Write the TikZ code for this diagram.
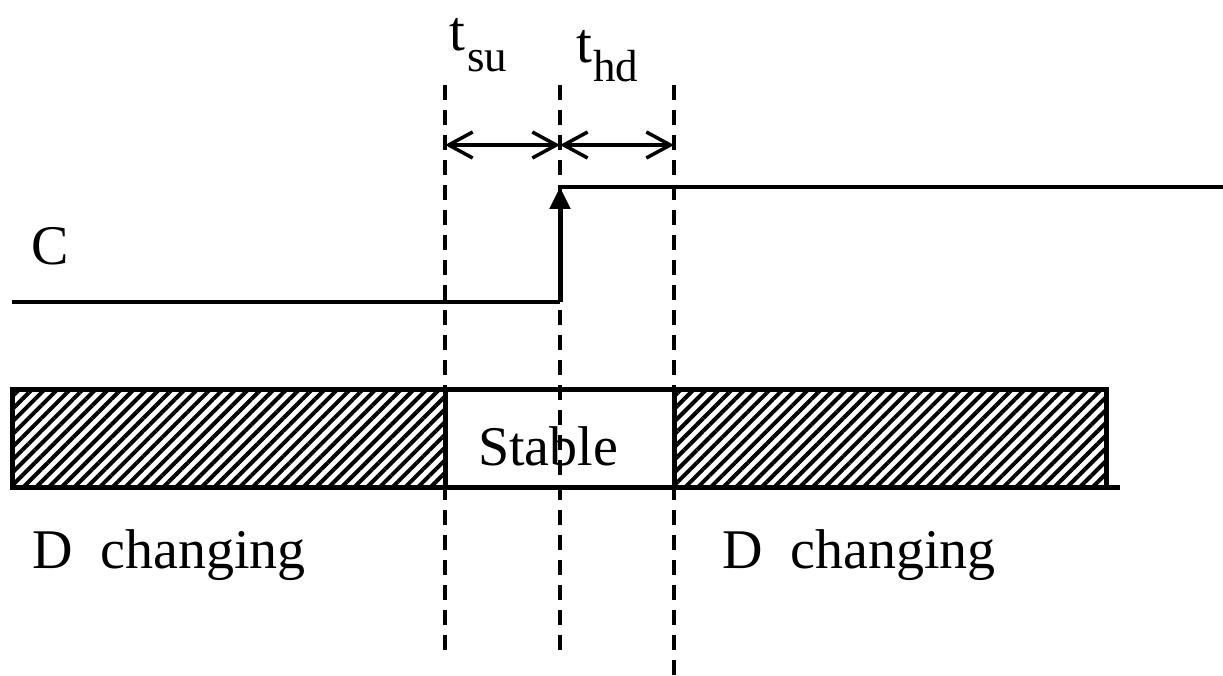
\documentclass[tikz,border=0pt]{standalone}
\usepackage{fontspec}
\setmainfont{Liberation Serif}
\usetikzlibrary{arrows.meta,patterns.meta}
\begin{document}
\begin{tikzpicture}[x=1pt,y=-1pt,
  lbl/.style={inner sep=0pt,anchor=base west,font=\fontsize{56}{60}\selectfont},
  tlbl/.style={inner sep=0pt,anchor=base west,font=\fontsize{57}{62}\selectfont},
  guide/.style={line width=4.5pt,dash pattern=on 15pt off 10pt},
  span/.style={line width=3.5pt,{Straight Barb[length=24pt,width=26pt]}-{Straight Barb[length=24pt,width=26pt]}},
  sig/.style={line width=3.2pt},
  edgeln/.style={line width=5pt,-{Triangle[length=22pt,width=20pt]}},
  hatch/.style={pattern={Lines[angle=45,distance=9pt,line width=4pt]}},
  boxln/.style={line width=5pt}]
\useasboundingbox (0,0) rectangle (1223,676);
% coordinates
\coordinate (su1) at (445,85);  \coordinate (su2) at (445,652);
\coordinate (ck1) at (560,85);  \coordinate (ck2) at (560,652);
\coordinate (hd1) at (674,85);  \coordinate (hd2) at (674,676);
\coordinate (aL) at (445,145);  \coordinate (aM) at (560,145);  \coordinate (aR) at (674,145);
\coordinate (c0) at (12,302);   \coordinate (c1) at (560,302);
\coordinate (c2) at (560,187);  \coordinate (c3) at (1223,187);
\coordinate (bTL) at (12,389);  \coordinate (bBR) at (1106,487);
\coordinate (sL) at (445,389);  \coordinate (sLb) at (445,487);
\coordinate (sR) at (674,389);  \coordinate (sRb) at (674,487);
\coordinate (bBL) at (12,487);  \coordinate (bEnd) at (1120,487);
% hatched regions
\fill[hatch] (bTL) rectangle (sLb);
\fill[hatch] (sR) rectangle (bBR);
% box
\draw[boxln] (bTL) rectangle (bBR);
\draw[boxln] (bBL) -- (bEnd);
\draw[boxln] (sL) -- (sLb);
\draw[boxln] (sR) -- (sRb);
% labels
\node[lbl] (lc) at (31,265) {C};
\node[lbl] (lst) at (478,465) {Stable};
\node[lbl] (ld1) at (32,568) {D~~changing};
\node[lbl] (ld2) at (722,568) {D~~changing};
\node[tlbl] (tsu) at (449,51) {t\kern2pt\raisebox{-21pt}{\fontsize{45}{50}\selectfont su}};
\node[tlbl] (thd) at (576,63) {t\kern1pt\raisebox{-19pt}{\fontsize{45}{50}\selectfont hd}};
% guide lines
\draw[guide] (su1) -- (su2);
\draw[guide] (ck1) -- (ck2);
\draw[guide] (hd1) -- (hd2);
% spans
\draw[span] (aL) -- (aM);
\draw[span] (aM) -- (aR);
% clock
\draw[sig] (c0) -- (c1);
\draw[edgeln] (c1) -- (c2);
\draw[sig] (c2) -- (c3);
\end{tikzpicture}
\end{document}
